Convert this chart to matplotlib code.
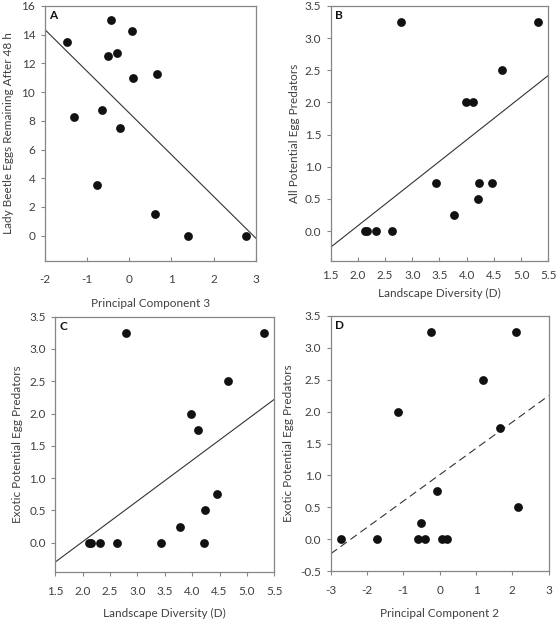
import matplotlib
matplotlib.use("Agg")
import matplotlib.pyplot as plt
import numpy as np

plt.rcParams['font.family'] = ['Lato', 'DejaVu Sans']

# Panel A
a_x = [-1.47, -0.43, 0.055, -0.28, -0.51, 0.08, 0.65, -0.64, -1.30, -0.23, -0.76, 0.61, 1.40, 2.77]
a_y = [13.5, 15.0, 14.25, 12.75, 12.5, 11.0, 11.25, 8.75, 8.25, 7.5, 3.5, 1.5, 0.0, 0.0]
a_line_x = [-2, 3]
a_line_y = [14.37, -0.19]

# Panel B
b_x = [2.80, 5.31, 4.65, 3.98, 4.12, 3.44, 4.23, 4.46, 4.21, 3.77, 2.13, 2.17, 2.33, 2.63]
b_y = [3.25, 3.25, 2.5, 2.0, 2.0, 0.75, 0.75, 0.75, 0.5, 0.25, 0.0, 0.0, 0.0, 0.0]
b_line_x = [1.5, 5.5]
b_line_y = [-0.25, 2.42]

# Panel C
c_x = [2.80, 5.32, 4.65, 3.98, 4.11, 4.46, 4.23, 3.77, 2.12, 2.16, 2.32, 2.62, 3.43, 4.21]
c_y = [3.25, 3.25, 2.5, 2.0, 1.75, 0.75, 0.5, 0.25, 0.0, 0.0, 0.0, 0.0, 0.0, 0.0]
c_line_x = [1.5, 5.5]
c_line_y = [-0.30, 2.22]

# Panel D
d_x = [-0.23, 2.10, 1.19, -1.15, 1.67, -0.08, 2.15, -0.52, -2.73, -1.72, -0.61, -0.41, 0.05, 0.19]
d_y = [3.25, 3.25, 2.5, 2.0, 1.75, 0.75, 0.5, 0.25, 0.0, 0.0, 0.0, 0.0, 0.0, 0.0]
d_line_x = [-3, 3]
d_line_y = [-0.23, 2.25]

W, H = 558, 622
fig = plt.figure(figsize=(W / 100, H / 100), dpi=100)

def add_ax(l, r, t, b):
    return fig.add_axes([l / W, 1 - b / H, (r - l) / W, (b - t) / H])

spine_c = '#868686'
text_c = '#404040'
fs = 8.5

def panel(ax, x, y, lx, ly, ls, letter, xlabel, ylabel, xlim, ylim, xticks, yticks,
          xfmt, yfmt, xdir, xpad, xlab_y, ylab_x):
    ax.scatter(x, y, s=40, color='#111111', zorder=3, linewidths=0)
    if ls == '--':
        ax.plot(lx, ly, color='#333333', lw=0.8, ls='--', dashes=(7, 4), zorder=2)
    else:
        ax.plot(lx, ly, color='#333333', lw=0.8, ls='-', zorder=2)
    ax.set_xlim(*xlim)
    ax.set_ylim(*ylim)
    ax.set_xticks(xticks)
    ax.set_yticks(yticks)
    ax.set_xticklabels([xfmt.format(v) for v in xticks])
    ax.set_yticklabels([yfmt.format(v) for v in yticks])
    for s in ax.spines.values():
        s.set_color(spine_c)
        s.set_linewidth(0.9)
    ax.tick_params(axis='y', direction='out', length=3.2, color=spine_c, labelcolor=text_c, labelsize=fs, pad=3.6)
    ax.tick_params(axis='x', direction=xdir, length=3.2, color=spine_c, labelcolor=text_c, labelsize=fs, pad=xpad)
    ax.set_xlabel(xlabel, fontsize=fs, color=text_c)
    ax.set_ylabel(ylabel, fontsize=fs, color=text_c)
    ax.xaxis.set_label_coords(0.5, xlab_y)
    ax.yaxis.set_label_coords(ylab_x, 0.5)
    ax.text(0.02, 0.985, letter, transform=ax.transAxes, ha='left', va='top', fontsize=fs,
            fontweight='bold', color='#111111')

axA = add_ax(44.7, 256, 6, 261)
panel(axA, a_x, a_y, a_line_x, a_line_y, '-', 'A', 'Principal Component 3',
      'Lady Beetle Eggs Remaining After 48 h', (-2, 3), (-1.77, 16),
      [-2, -1, 0, 1, 2, 3], [0, 2, 4, 6, 8, 10, 12, 14, 16], '{:g}', '{:g}', 'in', 9.4, -0.145, -0.144)

axB = add_ax(330.7, 548.3, 6, 260.7)
panel(axB, b_x, b_y, b_line_x, b_line_y, '-', 'B', 'Landscape Diversity (D)',
      'All Potential Egg Predators', (1.5, 5.5), (-0.46, 3.5),
      [1.5, 2.0, 2.5, 3.0, 3.5, 4.0, 4.5, 5.0, 5.5], [0, 0.5, 1.0, 1.5, 2.0, 2.5, 3.0, 3.5],
      '{:.1f}', '{:.1f}', 'in', 6.5, -0.108, -0.143)

axC = add_ax(55.3, 274.3, 316.7, 571.7)
panel(axC, c_x, c_y, c_line_x, c_line_y, '-', 'C', 'Landscape Diversity (D)',
      'Exotic Potential Egg Predators', (1.5, 5.5), (-0.45, 3.5),
      [1.5, 2.0, 2.5, 3.0, 3.5, 4.0, 4.5, 5.0, 5.5], [0, 0.5, 1.0, 1.5, 2.0, 2.5, 3.0, 3.5],
      '{:.1f}', '{:.1f}', 'out', 7.2, -0.142, -0.147)

axD = add_ax(330.7, 548.7, 316, 571)
panel(axD, d_x, d_y, d_line_x, d_line_y, '--', 'D', 'Principal Component 2',
      'Exotic Potential Egg Predators', (-3, 3), (-0.5, 3.5),
      [-3, -2, -1, 0, 1, 2, 3], [-0.5, 0, 0.5, 1.0, 1.5, 2.0, 2.5, 3.0, 3.5],
      '{:g}', '{:.1f}', 'out', 7.2, -0.146, -0.169)

fig.savefig('out.png', dpi=100)
